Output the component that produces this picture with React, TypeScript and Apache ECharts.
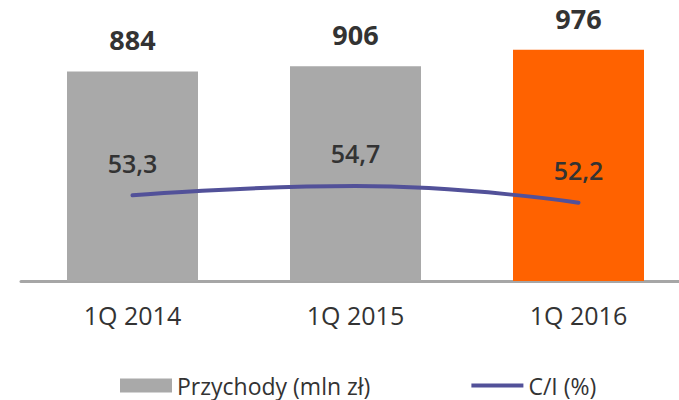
import React, { useEffect, useRef } from "react";
import * as echarts from "echarts";

const categories = ["1Q 2014", "1Q 2015", "1Q 2016"];
const revenue = [884, 906, 976];
const costIncome = [53.3, 54.7, 52.2];
const seriesNames = ["Przychody (mln zł)", "C/I (%)"];

const GRAY = "#a9a9a9";
const ORANGE = "#ff6200";
const INDIGO = "#525199";
const TEXT = "#333333";
const FONT = "'Open Sans', 'Noto Sans', sans-serif";

export default function App() {
  const ref = useRef<HTMLDivElement>(null);
  useEffect(() => {
    if (!ref.current) return;
    const chart = echarts.init(ref.current, undefined, { renderer: "svg" });
    chart.setOption({
      animation: false,
      textStyle: { fontFamily: FONT },
      grid: {
        left: 21,
        width: 669,
        top: 44,
        bottom: 119,
        containLabel: false,
        outerBoundsMode: "none",
      },
      legend: {
        left: 115,
        top: 369,
        itemGap: 101,
        itemWidth: 52,
        itemHeight: 14,
        textStyle: { fontSize: 23, color: TEXT, fontFamily: FONT },
        data: [
          { name: seriesNames[0], icon: "rect" },
          { name: seriesNames[1], icon: "path://M0,0 L52,0 L52,4 L0,4 Z" },
        ],
      },
      xAxis: {
        type: "category",
        data: categories,
        offset: 1.5,
        axisLine: { lineStyle: { color: "#a6a6a6", width: 3 } },
        axisTick: { show: false },
        axisLabel: { fontSize: 25, color: TEXT, margin: 20, fontFamily: FONT },
      },
      yAxis: [
        { type: "value", min: 0, max: 1000, show: false, splitLine: { show: false } },
        { type: "value", min: 40.4, max: 76.1, show: false, splitLine: { show: false } },
      ],
      series: [
        {
          name: seriesNames[0],
          type: "bar",
          barWidth: 131,
          yAxisIndex: 0,
          itemStyle: { color: GRAY },
          data: revenue.map((v, i) =>
            i === 2 ? { value: v, itemStyle: { color: ORANGE } } : v
          ),
          label: {
            show: true,
            position: "top",
            distance: 18,
            fontSize: 27,
            fontWeight: "bold",
            color: TEXT,
            fontFamily: FONT,
          },
          z: 1,
        },
        {
          name: seriesNames[1],
          type: "line",
          yAxisIndex: 1,
          smooth: true,
          symbol: "circle",
          symbolSize: 0.5,
          showSymbol: true,
          lineStyle: { color: INDIGO, width: 4, cap: "round" },
          itemStyle: { color: INDIGO },
          data: costIncome,
          label: {
            show: true,
            position: "top",
            distance: 20,
            fontSize: 25,
            fontWeight: 600,
            color: TEXT,
            fontFamily: FONT,
            formatter: (p: any) => String(p.value).replace(".", ","),
          },
          z: 3,
        },
      ],
    });
    return () => chart.dispose();
  }, []);
  return (
    <div
      ref={ref}
      style={{ position: "absolute", left: 0, top: 0, width: 679, height: 400 }}
    />
  );
}
